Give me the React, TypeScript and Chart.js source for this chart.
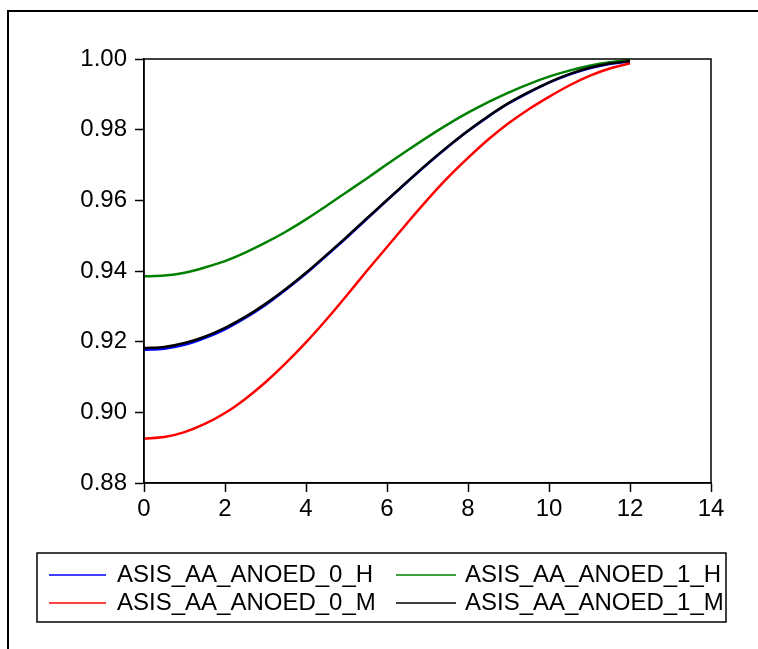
import React, { useEffect, useRef } from "react";
import { Chart, registerables } from "chart.js";

Chart.register(...registerables);

const tValues = [0, 0.5, 1, 1.5, 2, 2.5, 3, 3.5, 4, 4.5, 5, 5.5, 6, 6.5, 7, 7.5, 8, 8.5, 9, 9.5, 10, 10.5, 11, 11.5, 12];
const seriesNames = ["ASIS_AA_ANOED_0_H", "ASIS_AA_ANOED_1_H", "ASIS_AA_ANOED_0_M", "ASIS_AA_ANOED_1_M"];
const seriesColors = ["#0000FF", "#008000", "#FF0000", "#000000"];
const series0H = [0.9177, 0.918, 0.9191, 0.921, 0.9235, 0.9267, 0.9304, 0.9347, 0.9393, 0.9443, 0.9494, 0.9547, 0.96, 0.9652, 0.9703, 0.9751, 0.9796, 0.9837, 0.9874, 0.9905, 0.9933, 0.9956, 0.9974, 0.9986, 0.9993];
const series1H = [0.9385, 0.9387, 0.9395, 0.941, 0.9428, 0.9452, 0.948, 0.9511, 0.9546, 0.9584, 0.9623, 0.9662, 0.9702, 0.9741, 0.9779, 0.9815, 0.9848, 0.9878, 0.9905, 0.9929, 0.995, 0.9967, 0.9981, 0.9991, 0.9997];
const series0M = [0.8926, 0.893, 0.8944, 0.8967, 0.8998, 0.9038, 0.9085, 0.9139, 0.9198, 0.9262, 0.933, 0.94, 0.9468, 0.9536, 0.9602, 0.9664, 0.972, 0.9772, 0.9818, 0.9858, 0.9893, 0.9925, 0.9952, 0.9973, 0.9988];
const series1M = [0.9182, 0.9185, 0.9196, 0.9214, 0.9239, 0.927, 0.9307, 0.9349, 0.9395, 0.9445, 0.9496, 0.9549, 0.9601, 0.9653, 0.9704, 0.9752, 0.9797, 0.9838, 0.9875, 0.9906, 0.9934, 0.9957, 0.9975, 0.9987, 0.9994];
const seriesValues = [series0H, series1H, series0M, series1M];
const drawOrder = [4, 2, 3, 1];
const yTicksMin = 0.88;
const yTicksMax = 1.0;
const yStep = 0.02;
const xTicksMin = 0;
const xTicksMax = 14;
const xStep = 2;

const FONT = "'Liberation Sans', Arial, sans-serif";

const framePlugin = {
  id: "frameAndLegend",
  afterDraw(chart: any) {
    const ctx = chart.ctx;
    const a = chart.chartArea;
    ctx.save();
    ctx.strokeStyle = "#000";
    ctx.lineWidth = 1.5;
    ctx.strokeRect(a.left, a.top, a.right - a.left, a.bottom - a.top);
    ctx.lineWidth = 2;
    ctx.beginPath();
    ctx.moveTo(8, 700);
    ctx.lineTo(8, 11);
    ctx.lineTo(800, 11);
    ctx.stroke();
    ctx.lineWidth = 1.5;
    ctx.strokeRect(37, 553, 689, 69);
    ctx.font = "24px " + FONT;
    ctx.textBaseline = "middle";
    ctx.textAlign = "left";
    const cols = [
      { x0: 49, x1: 106, tx: 117 },
      { x0: 396, x1: 456, tx: 465 },
    ];
    const rows = [575, 603];
    seriesNames.forEach((name, i) => {
      const c = cols[i % 2];
      const y = rows[Math.floor(i / 2)];
      ctx.strokeStyle = seriesColors[i];
      ctx.lineWidth = 1.5;
      ctx.beginPath();
      ctx.moveTo(c.x0, y);
      ctx.lineTo(c.x1, y);
      ctx.stroke();
      ctx.fillStyle = "#000";
      ctx.fillText(name, c.tx, y);
    });
    ctx.restore();
  },
};

export default function App() {
  const ref = useRef<HTMLCanvasElement>(null);
  useEffect(() => {
    if (!ref.current) return;
    const chart = new Chart(ref.current, {
      type: "line",
      data: {
        datasets: seriesNames.map((name, i) => ({
          label: name,
          data: tValues.map((t, j) => ({ x: t, y: seriesValues[i][j] })),
          borderColor: seriesColors[i],
          backgroundColor: seriesColors[i],
          borderWidth: 2.5,
          pointRadius: 0,
          cubicInterpolationMode: "monotone" as const,
          fill: false,
          order: drawOrder[i],
        })),
      },
      options: {
        animation: false,
        responsive: false,
        layout: { padding: { left: 0, top: 59, right: 47, bottom: 126 } },
        plugins: { legend: { display: false }, tooltip: { enabled: false } },
        scales: {
          x: {
            type: "linear",
            min: xTicksMin,
            max: xTicksMax,
            afterFit: (s: any) => {
              s.height = 40;
            },
            ticks: {
              stepSize: xStep,
              color: "#000",
              font: { family: FONT, size: 24 },
              padding: 3,
              maxRotation: 0,
            },
            grid: { drawOnChartArea: false, drawTicks: true, tickLength: 9, tickColor: "#000", tickWidth: 1.5 },
            border: { display: true, color: "#000", width: 1.5 },
          },
          y: {
            type: "linear",
            min: yTicksMin,
            max: yTicksMax,
            afterFit: (s: any) => {
              s.width = 144;
            },
            ticks: {
              stepSize: yStep,
              color: "#000",
              font: { family: FONT, size: 24 },
              padding: 8,
              callback: (v: any) => Number(v).toFixed(2),
            },
            grid: { drawOnChartArea: false, drawTicks: true, tickLength: 9, tickColor: "#000", tickWidth: 1.5 },
            border: { display: true, color: "#000", width: 1.5 },
          },
        },
      },
      plugins: [framePlugin],
    });
    return () => chart.destroy();
  }, []);
  return (
    <div style={{ position: "fixed", left: 0, top: 0, width: 758, height: 649, background: "#fff" }}>
      <canvas ref={ref} width={758} height={649} style={{ display: "block", width: 758, height: 649 }} />
    </div>
  );
}
